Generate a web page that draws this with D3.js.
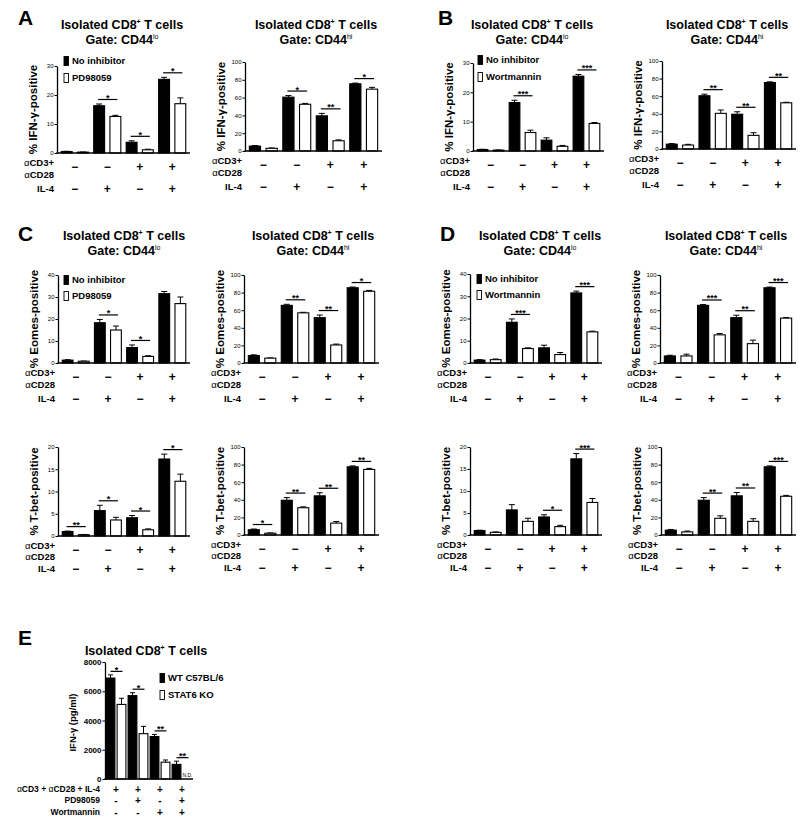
<!DOCTYPE html>
<html><head><meta charset="utf-8">
<script src="https://cdn.jsdelivr.net/npm/d3@7/dist/d3.min.js"></script>
<style>
body{margin:0;background:#fff}
svg{display:block}
text{font-family:"Liberation Sans",Arial,Helvetica,sans-serif;fill:#000}
</style>
</head><body>
<svg id="c" width="800" height="828"></svg>
<script>
// ---------- shared condition rows ----------
const cd3Row = ["−","−","+","+"];
const il4Row = ["−","+","−","+"];
const yTicks30 = [0,10,20,30];
const yTicks40 = [0,10,20,30,40];
const yTicks20 = [0,5,10,15,20];
const yTicks100 = [0,20,40,60,80,100];
const legendPD = ["No inhibitor","PD98059"];
const legendWort = ["No inhibitor","Wortmannin"];

// ---------- Panel A : IFN-γ, PD98059 ----------
const aLoNoInh = [0.5, 16.3, 3.7, 25.4];
const aLoNoInhErr = [0.1, 0.6, 0.5, 0.7];
const aLoPD = [0.3, 12.6, 1.1, 17.0];
const aLoPDErr = [0.05, 0.4, 0.2, 2.0];
const aLoSig = ["", "*", "*", "*"];

const aHiNoInh = [5.5, 60.5, 39.5, 75.5];
const aHiNoInhErr = [0.6, 1.8, 2.8, 0.8];
const aHiPD = [3.0, 52.5, 11.5, 69.5];
const aHiPDErr = [0.4, 1.0, 1.0, 2.0];
const aHiSig = ["", "*", "**", "*"];

// ---------- Panel B : IFN-γ, Wortmannin ----------
const bLoNoInh = [0.5, 16.5, 3.7, 25.5];
const bLoNoInhErr = [0.1, 0.8, 0.8, 0.6];
const bLoWort = [0.3, 6.3, 1.6, 9.4];
const bLoWortErr = [0.05, 0.8, 0.3, 0.3];
const bLoSig = ["", "***", "", "***"];

const bHiNoInh = [5.5, 60.5, 39.5, 75.5];
const bHiNoInhErr = [0.6, 1.8, 2.8, 0.8];
const bHiWort = [4.5, 40.5, 15.5, 52.5];
const bHiWortErr = [0.8, 3.8, 3.0, 0.6];
const bHiSig = ["", "**", "**", "**"];

// ---------- Panel C : Eomes / T-bet, PD98059 ----------
const cEoLoNoInh = [1.3, 18.3, 7.0, 31.5];
const cEoLoNoInhErr = [0.2, 1.5, 1.2, 1.0];
const cEoLoPD = [0.8, 15.0, 3.0, 27.0];
const cEoLoPDErr = [0.1, 1.8, 0.3, 3.0];
const cEoLoSig = ["", "*", "*", ""];

const cEoHiNoInh = [8.5, 65.5, 51.5, 85.5];
const cEoHiNoInhErr = [0.8, 1.2, 3.0, 0.8];
const cEoHiPD = [5.5, 57.0, 20.5, 81.5];
const cEoHiPDErr = [0.3, 0.6, 1.0, 1.0];
const cEoHiSig = ["", "**", "**", "*"];

const cTbLoNoInh = [1.0, 5.7, 4.1, 17.3];
const cTbLoNoInhErr = [0.1, 1.2, 0.5, 1.1];
const cTbLoPD = [0.3, 3.6, 1.4, 12.3];
const cTbLoPDErr = [0.05, 0.6, 0.2, 1.6];
const cTbLoSig = ["**", "*", "*", "*"];

const cTbHiNoInh = [6.0, 39.5, 44.5, 77.5];
const cTbHiNoInhErr = [0.8, 3.0, 3.5, 1.0];
const cTbHiPD = [2.0, 31.0, 13.5, 74.5];
const cTbHiPDErr = [0.4, 1.0, 1.8, 1.2];
const cTbHiSig = ["*", "**", "**", "**"];

// ---------- Panel D : Eomes / T-bet, Wortmannin ----------
const dEoLoNoInh = [1.3, 18.3, 6.8, 31.5];
const dEoLoNoInhErr = [0.2, 1.5, 1.2, 0.8];
const dEoLoWort = [1.5, 6.5, 3.8, 14.0];
const dEoLoWortErr = [0.3, 0.3, 0.9, 0.3];
const dEoLoSig = ["", "***", "", "***"];

const dEoHiNoInh = [8.0, 65.5, 51.5, 85.5];
const dEoHiNoInhErr = [0.8, 1.0, 2.8, 0.8];
const dEoHiWort = [8.0, 32.0, 22.0, 51.0];
const dEoHiWortErr = [2.0, 1.5, 4.0, 0.6];
const dEoHiSig = ["", "***", "**", "***"];

const dTbLoNoInh = [1.0, 5.7, 4.1, 17.3];
const dTbLoNoInhErr = [0.1, 1.2, 0.5, 1.2];
const dTbLoWort = [0.6, 3.1, 1.9, 7.4];
const dTbLoWortErr = [0.1, 0.7, 0.3, 0.9];
const dTbLoSig = ["", "", "*", "***"];

const dTbHiNoInh = [5.5, 39.5, 44.5, 77.5];
const dTbHiNoInhErr = [0.8, 3.0, 3.8, 1.0];
const dTbHiWort = [3.5, 19.0, 15.5, 44.0];
const dTbHiWortErr = [1.0, 2.8, 3.0, 1.0];
const dTbHiSig = ["", "**", "**", "***"];

// ---------- Panel E : IFN-γ ELISA ----------
const eWT = [6900, 5700, 2900, 1000];
const eWTErr = [220, 200, 150, 220];
const eKO = [5100, 3100, 1150, 0];
const eKOErr = [420, 500, 150, 0];
const eKOLabel = ["", "", "", "N.D."];
const eSig = ["*", "*", "**", "**"];
const eTicks = [0, 2000, 4000, 6000, 8000];
const eRowStim = ["+","+","+","+"];
const eRowPD = ["-","+","-","+"];
const eRowWort = ["-","-","+","+"];
const eLegend = ["WT C57BL/6", "STAT6 KO"];

// =================== drawing ===================
const svg = d3.select("#c");

function sup(textSel, base, supTxt, size, supSize) {
  textSel.append("tspan").text(base);
  textSel.append("tspan").attr("font-size", supSize).attr("dy", -size*0.38).text(supTxt);
}

function drawTitle(cx, y, gate) {
  const t = svg.append("text").attr("x", cx).attr("y", y + 4.5)
    .attr("text-anchor", "middle").attr("font-size", 12.5).attr("font-weight", "bold");
  t.append("tspan").text("Isolated CD8");
  t.append("tspan").attr("font-size", 7).attr("dy", -5).text("+");
  t.append("tspan").attr("dy", 5).text(" T cells");
  if (gate) {
    const t2 = svg.append("text").attr("x", cx).attr("y", y + 19.5)
      .attr("text-anchor", "middle").attr("font-size", 12.5).attr("font-weight", "bold");
    t2.append("tspan").text("Gate: CD44");
    t2.append("tspan").attr("font-size", 7).attr("font-weight", "normal").attr("dy", -5).text(gate);
  }
}

function drawLetter(L, x, y) {
  svg.append("text").attr("x", x).attr("y", y).attr("font-size", 21)
    .attr("font-weight", "bold").text(L);
}

function drawLegend(x, yc1, yc2, names, fs) {
  fs = fs || 9.5;
  [[yc1, "#000"], [yc2, "#fff"]].forEach(([yc, f], i) => {
    svg.append("rect").attr("x", x).attr("y", yc - 4.5).attr("width", 4.5).attr("height", 9)
      .attr("fill", f).attr("stroke", "#000").attr("stroke-width", 0.9);
    svg.append("text").attr("x", x + 8).attr("y", yc + 3.4).attr("font-size", fs)
      .attr("font-weight", "bold").text(names[i]);
  });
}

function drawPanel(p) {
  const g = svg.append("g");
  const keys = d3.range(8);
  const x = d3.scaleBand().domain(keys).range([p.axisX + 1, p.endX])
    .paddingInner(0.33).paddingOuter(0.2);
  const y = d3.scaleLinear().domain([0, p.max]).range([p.yBot, p.yTop]);
  const bw = x.bandwidth();
  const bars = [];
  p.black.forEach((v, i) => {
    bars.push({k: 2*i, v: v, e: p.blackErr[i], f: "#000"});
    bars.push({k: 2*i+1, v: p.white[i], e: p.whiteErr[i], f: "#fff"});
  });
  // error bars (upper only)
  g.selectAll("line.eb").data(bars).join("line")
    .attr("x1", d => x(d.k) + bw/2).attr("x2", d => x(d.k) + bw/2)
    .attr("y1", d => y(d.v)).attr("y2", d => y(d.v + d.e))
    .attr("stroke", "#000").attr("stroke-width", 1);
  g.selectAll("line.cap").data(bars).join("line")
    .attr("x1", d => x(d.k) + bw/2 - 3).attr("x2", d => x(d.k) + bw/2 + 3)
    .attr("y1", d => y(d.v + d.e)).attr("y2", d => y(d.v + d.e))
    .attr("stroke", "#000").attr("stroke-width", 1);
  g.selectAll("rect.bar").data(bars).join("rect")
    .attr("x", d => x(d.k)).attr("y", d => y(d.v))
    .attr("width", bw).attr("height", d => Math.max(0.5, p.yBot - y(d.v)))
    .attr("fill", d => d.f).attr("stroke", "#000").attr("stroke-width", 1.1);
  // y axis
  const ax = g.append("g").attr("transform", `translate(${p.axisX},0)`)
    .call(d3.axisLeft(y).tickValues(p.ticks).tickSize(2.5).tickSizeOuter(0).tickPadding(1));
  ax.select(".domain").attr("stroke-width", 1.3);
  ax.selectAll(".tick line").attr("stroke-width", 1);
  ax.selectAll(".tick text").attr("font-size", 6).attr("font-family", "Liberation Sans, Arial, sans-serif");
  // x axis line
  g.append("line").attr("x1", p.axisX - 0.6).attr("x2", p.endX + 1)
    .attr("y1", p.yBot).attr("y2", p.yBot).attr("stroke", "#000").attr("stroke-width", 1.3);
  // y label
  g.append("text").attr("transform", `translate(${p.axisX - 20},${(p.yTop + p.yBot)/2}) rotate(-90)`)
    .attr("text-anchor", "middle").attr("font-size", 11.5).attr("font-weight", "bold").text(p.ylabel);
  // significance
  p.sig.forEach((s, i) => {
    if (!s) return;
    const top = Math.min(y(p.black[i] + p.blackErr[i]), y(p.white[i] + p.whiteErr[i]));
    const ly = top - 4.5;
    const x1 = x(2*i) + bw/2 - 1, x2 = x(2*i+1) + bw/2 + 2;
    g.append("line").attr("x1", x1).attr("x2", x2).attr("y1", ly).attr("y2", ly)
      .attr("stroke", "#000").attr("stroke-width", 1.2);
    g.append("text").attr("x", (x1 + x2)/2).attr("y", ly + 1.5).attr("text-anchor", "middle")
      .attr("font-size", 9).attr("font-weight", "bold").text(s);
  });
  // condition rows
  const off = p.rowOff || [10, 21.5, 35.5];
  const lx = p.axisX - 3;
  const r1 = g.append("text").attr("x", lx).attr("y", p.yBot + off[0] + 3.4)
    .attr("text-anchor", "end").attr("font-size", 9.5).attr("font-weight", "bold");
  r1.append("tspan").attr("font-weight", "normal").text("α");
  r1.append("tspan").text("CD3+");
  const r2 = g.append("text").attr("x", lx).attr("y", p.yBot + off[1] + 3.4)
    .attr("text-anchor", "end").attr("font-size", 9.5).attr("font-weight", "bold");
  r2.append("tspan").attr("font-weight", "normal").text("α");
  r2.append("tspan").text("CD28");
  g.append("text").attr("x", lx).attr("y", p.yBot + off[2] + 3.4)
    .attr("text-anchor", "end").attr("font-size", 9.5).attr("font-weight", "bold").text("IL-4");
  const gc = i => (x(2*i) + x(2*i+1) + bw)/2;
  g.selectAll("text.s1").data(cd3Row).join("text")
    .attr("x", (d, i) => gc(i)).attr("y", p.yBot + (off[0] + off[1])/2 - 1.5 + 4)
    .attr("text-anchor", "middle").attr("font-size", 12).attr("font-weight", "bold").text(d => d);
  g.selectAll("text.s2").data(il4Row).join("text")
    .attr("x", (d, i) => gc(i)).attr("y", p.yBot + off[2] + 4)
    .attr("text-anchor", "middle").attr("font-size", 12).attr("font-weight", "bold").text(d => d);
}

// ---- titles & letters ----
drawLetter("A", 18, 25);
drawLetter("B", 438, 25);
drawLetter("C", 18, 241);
drawLetter("D", 440, 241);
drawLetter("E", 18, 645);
drawTitle(122, 24, "lo");
drawTitle(316, 24, "hi");
drawTitle(532, 24, "lo");
drawTitle(727, 24, "hi");
drawTitle(124, 235, "lo");
drawTitle(313, 235, "hi");
drawTitle(540, 235, "lo");
drawTitle(726, 235, "hi");

// ---- panels ----
drawPanel({axisX: 57, endX: 189, yTop: 66, yBot: 153, max: 30, ticks: yTicks30, ylabel: "% IFN-γ-positive",
  black: aLoNoInh, blackErr: aLoNoInhErr, white: aLoPD, whiteErr: aLoPDErr, sig: aLoSig});
drawLegend(64, 61, 78, legendPD);
drawPanel({axisX: 245, endX: 381, yTop: 62, yBot: 151, max: 100, ticks: yTicks100, ylabel: "% IFN-γ-positive",
  black: aHiNoInh, blackErr: aHiNoInhErr, white: aHiPD, whiteErr: aHiPDErr, sig: aHiSig});
drawPanel({axisX: 473, endX: 603, yTop: 63, yBot: 151, max: 30, ticks: yTicks30, ylabel: "% IFN-γ-positive",
  black: bLoNoInh, blackErr: bLoNoInhErr, white: bLoWort, whiteErr: bLoWortErr, sig: bLoSig});
drawLegend(478, 60, 77, legendWort);
drawPanel({axisX: 662, endX: 795, yTop: 61, yBot: 149, max: 100, ticks: yTicks100, ylabel: "% IFN-γ-positive",
  black: bHiNoInh, blackErr: bHiNoInhErr, white: bHiWort, whiteErr: bHiWortErr, sig: bHiSig});

drawPanel({axisX: 58, endX: 189, yTop: 275, yBot: 363, max: 40, ticks: yTicks40, ylabel: "% Eomes-positive",
  black: cEoLoNoInh, blackErr: cEoLoNoInhErr, white: cEoLoPD, whiteErr: cEoLoPDErr, sig: cEoLoSig});
drawLegend(64, 280, 296, legendPD);
drawPanel({axisX: 244, endX: 378, yTop: 275, yBot: 363, max: 100, ticks: yTicks100, ylabel: "% Eomes-positive",
  black: cEoHiNoInh, blackErr: cEoHiNoInhErr, white: cEoHiPD, whiteErr: cEoHiPDErr, sig: cEoHiSig});
drawPanel({axisX: 58, endX: 189, yTop: 447, yBot: 536, max: 20, ticks: yTicks20, ylabel: "% T-bet-positive",
  black: cTbLoNoInh, blackErr: cTbLoNoInhErr, white: cTbLoPD, whiteErr: cTbLoPDErr, sig: cTbLoSig, rowOff: [9.5, 20.5, 32.5]});
drawPanel({axisX: 244, endX: 378, yTop: 447, yBot: 535, max: 100, ticks: yTicks100, ylabel: "% T-bet-positive",
  black: cTbHiNoInh, blackErr: cTbHiNoInhErr, white: cTbHiPD, whiteErr: cTbHiPDErr, sig: cTbHiSig, rowOff: [9.5, 20.5, 32.5]});

drawPanel({axisX: 470, endX: 601, yTop: 274, yBot: 363, max: 40, ticks: yTicks40, ylabel: "% Eomes-positive",
  black: dEoLoNoInh, blackErr: dEoLoNoInhErr, white: dEoLoWort, whiteErr: dEoLoWortErr, sig: dEoLoSig});
drawLegend(477, 279, 295, legendWort);
drawPanel({axisX: 660, endX: 795, yTop: 275, yBot: 363, max: 100, ticks: yTicks100, ylabel: "% Eomes-positive",
  black: dEoHiNoInh, blackErr: dEoHiNoInhErr, white: dEoHiWort, whiteErr: dEoHiWortErr, sig: dEoHiSig});
drawPanel({axisX: 470, endX: 601, yTop: 447, yBot: 535, max: 20, ticks: yTicks20, ylabel: "% T-bet-positive",
  black: dTbLoNoInh, blackErr: dTbLoNoInhErr, white: dTbLoWort, whiteErr: dTbLoWortErr, sig: dTbLoSig, rowOff: [9.5, 20.5, 32.5]});
drawPanel({axisX: 661, endX: 795, yTop: 447, yBot: 535, max: 100, ticks: yTicks100, ylabel: "% T-bet-positive",
  black: dTbHiNoInh, blackErr: dTbHiNoInhErr, white: dTbHiWort, whiteErr: dTbHiWortErr, sig: dTbHiSig, rowOff: [9.5, 20.5, 32.5]});

// ---- Panel E ----
(function () {
  const g = svg.append("g");
  const axisX = 105, endX = 193, yTop = 662, yBot = 779;
  const x = d3.scaleBand().domain(d3.range(8)).range([axisX, endX]).paddingInner(0.2).paddingOuter(0.1);
  const y = d3.scaleLinear().domain([0, 8000]).range([yBot, yTop]);
  const bw = x.bandwidth();
  svg.append("text").attr("x", 146).attr("y", 654.5).attr("text-anchor", "middle")
    .attr("font-size", 12.5).attr("font-weight", "bold")
    .call(t => { t.append("tspan").text("Isolated CD8"); t.append("tspan").attr("font-size", 7).attr("dy", -5).text("+"); t.append("tspan").attr("dy", 5).text(" T cells"); });
  const bars = [];
  eWT.forEach((v, i) => {
    bars.push({k: 2*i, v: v, e: eWTErr[i], f: "#000", nd: ""});
    bars.push({k: 2*i+1, v: eKO[i], e: eKOErr[i], f: "#fff", nd: eKOLabel[i]});
  });
  const real = bars.filter(d => !d.nd);
  g.selectAll("line.eb").data(real).join("line")
    .attr("x1", d => x(d.k) + bw/2).attr("x2", d => x(d.k) + bw/2)
    .attr("y1", d => y(d.v)).attr("y2", d => y(d.v + d.e)).attr("stroke", "#000").attr("stroke-width", 1);
  g.selectAll("line.cap").data(real).join("line")
    .attr("x1", d => x(d.k) + bw/2 - 2.5).attr("x2", d => x(d.k) + bw/2 + 2.5)
    .attr("y1", d => y(d.v + d.e)).attr("y2", d => y(d.v + d.e)).attr("stroke", "#000").attr("stroke-width", 1);
  g.selectAll("rect.bar").data(real).join("rect")
    .attr("x", d => x(d.k)).attr("y", d => y(d.v)).attr("width", bw).attr("height", d => yBot - y(d.v))
    .attr("fill", d => d.f).attr("stroke", "#000").attr("stroke-width", 1.1);
  g.selectAll("text.nd").data(bars.filter(d => d.nd)).join("text")
    .attr("x", d => x(d.k) + bw/2).attr("y", yBot - 2).attr("text-anchor", "middle")
    .attr("font-size", 5).text(d => d.nd);
  const ax = g.append("g").attr("transform", `translate(${axisX},0)`)
    .call(d3.axisLeft(y).tickValues(eTicks).tickSize(2.5).tickSizeOuter(0).tickPadding(1).tickFormat(d3.format("d")));
  ax.select(".domain").attr("stroke-width", 1.3);
  ax.selectAll(".tick text").attr("font-size", 8).attr("font-weight", "bold").attr("font-family", "Liberation Sans, Arial, sans-serif");
  g.append("line").attr("x1", axisX - 0.6).attr("x2", endX).attr("y1", yBot).attr("y2", yBot)
    .attr("stroke", "#000").attr("stroke-width", 1.3);
  g.append("text").attr("transform", `translate(76,${(yTop + yBot)/2 + 2}) rotate(-90)`)
    .attr("text-anchor", "middle").attr("font-size", 9.5).attr("font-weight", "bold").text("IFN-γ (pg/ml)");
  eSig.forEach((s, i) => {
    const top = Math.min(y(eWT[i] + eWTErr[i]), y(eKO[i] + eKOErr[i]));
    const ly = top - 3.5;
    const x1 = x(2*i) + bw/2, x2 = x(2*i+1) + bw/2 + 1;
    g.append("line").attr("x1", x1).attr("x2", x2).attr("y1", ly).attr("y2", ly).attr("stroke", "#000").attr("stroke-width", 1.2);
    g.append("text").attr("x", (x1 + x2)/2).attr("y", ly + 1.5).attr("text-anchor", "middle")
      .attr("font-size", 9).attr("font-weight", "bold").text(s);
  });
  drawLegend(160, 678, 695, eLegend, 9.5);
  const gc = i => (x(2*i) + x(2*i+1) + bw)/2;
  const rows = [[eRowStim, 789], [eRowPD, 800], [eRowWort, 812]];
  const r1 = g.append("text").attr("x", 100).attr("y", 789 + 3).attr("text-anchor", "end")
    .attr("font-size", 8.5).attr("font-weight", "bold");
  r1.append("tspan").attr("font-weight", "normal").text("α");
  r1.append("tspan").text("CD3 + ");
  r1.append("tspan").attr("font-weight", "normal").text("α");
  r1.append("tspan").text("CD28 + IL-4");
  g.append("text").attr("x", 100).attr("y", 800 + 3).attr("text-anchor", "end")
    .attr("font-size", 8.5).attr("font-weight", "bold").text("PD98059");
  g.append("text").attr("x", 100).attr("y", 812 + 3).attr("text-anchor", "end")
    .attr("font-size", 8.5).attr("font-weight", "bold").text("Wortmannin");
  rows.forEach(([arr, yy]) => {
    g.selectAll(null).data(arr).join("text")
      .attr("x", (d, i) => gc(i)).attr("y", yy + 3.5).attr("text-anchor", "middle")
      .attr("font-size", 10).attr("font-weight", "bold").text(d => d);
  });
})();
</script>
</body></html>
